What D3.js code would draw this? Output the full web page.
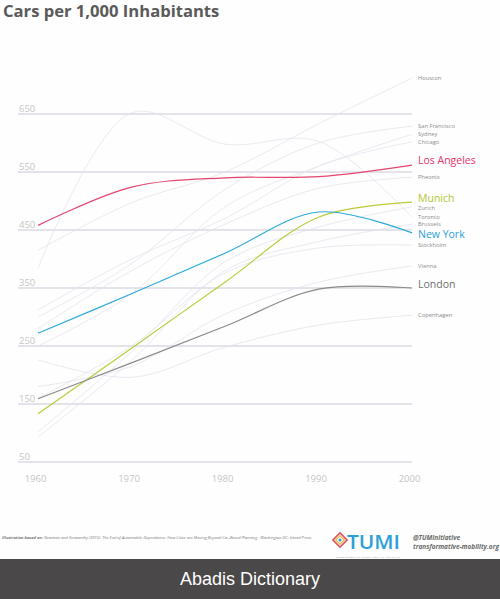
<!DOCTYPE html>
<html><head><meta charset="utf-8">
<script src="https://cdn.jsdelivr.net/npm/d3@7"></script>
<style>
html,body{margin:0;padding:0;background:#fff;}
svg{display:block;}
</style></head>
<body>
<script>
// ---- data ----
const years = [1960, 1970, 1980, 1990, 2000];
const yTicks = [50, 150, 250, 350, 450, 550, 650];
const xTicks = [1960, 1970, 1980, 1990, 2000];

const cities = ["Houston","San Francisco","Sydney","Chicago","Los Angeles","Pheonix","Munich","Zurich","Toronto","Brussels","New York","Stockholm","Vienna","London","Copenhagen"];
const values = [
  [415, 497, 550, 633, 712],   // Houston
  [300, 392, 520, 600, 629],   // San Francisco
  [250, 340, 490, 560, 615],   // Sydney
  [312, 400, 470, 560, 602],   // Chicago
  [458, 524, 540, 542, 562],   // Los Angeles
  [280, 380, 460, 522, 541],   // Pheonix
  [133, 246, 360, 472, 498],   // Munich
  [102, 240, 395, 455, 490],   // Zurich
  [384, 652, 598, 603, 472],   // Toronto
  [93, 225, 380, 430, 460],    // Brussels
  [272, 340, 410, 481, 445],   // New York
  [160, 250, 376, 419, 424],   // Stockholm
  [180, 215, 305, 360, 388],   // Vienna
  [159, 221, 284, 348, 350],   // London
  [226, 196, 248, 286, 303]    // Copenhagen
];
const highlight = {"Los Angeles":"#e4456f","Munich":"#bccb3a","New York":"#2ea9dc","London":"#8a8a8a"};
const highlightLabel = {"Los Angeles":"#e8336a","Munich":"#b3c52c","New York":"#2aa0da","London":"#6e6e6e"};
const titleText = "Cars per 1,000 Inhabitants";
const sourceBold = "Illustration based on:";
const sourceText = " Newman and Kenworthy (2015): The End of Automobile Dependence. How Cities are Moving Beyond Car-Based Planning . Washington DC: Island Press.";

// ---- layout ----
const W = 500, H = 599;
const svg = d3.select("body").append("svg").attr("width", W).attr("height", H);
svg.append("rect").attr("width", W).attr("height", H).attr("fill", "#fefefe");

const x = d3.scaleLinear().domain([1960, 2000]).range([38, 412]);
const y = d3.scaleLinear().domain([50, 650]).range([462, 114]);

// title
svg.append("text").attr("x", 3).attr("y", 17)
  .attr("font-family", "Open Sans, sans-serif").attr("font-weight", 700)
  .attr("font-size", 16.6).attr("fill", "#5a5a5a").text(titleText);

// gridlines + y labels
const grid = svg.append("g");
grid.selectAll("line").data(yTicks).join("line")
  .attr("x1", 18).attr("x2", 412)
  .attr("y1", d => y(d)).attr("y2", d => y(d))
  .attr("stroke", "#dadae2").attr("stroke-width", 1.3);
grid.selectAll("text").data(yTicks).join("text")
  .attr("x", 19).attr("y", d => y(d) - 2)
  .attr("font-family", "Open Sans, sans-serif").attr("font-size", 9.5)
  .attr("fill", "#c6c6c6").text(d => d);

// x axis labels via d3 axis
const xAxis = d3.axisBottom(x).tickValues(xTicks).tickFormat(d3.format("d")).tickSize(0).tickPadding(0);
const gx = svg.append("g").attr("transform", "translate(-3,475)").call(xAxis);
gx.select(".domain").remove();
gx.selectAll("text").attr("font-family", "Open Sans, sans-serif").attr("font-size", 9.5).attr("fill", "#c6c6c6");

// lines
const line = d3.line().x((d, i) => x(years[i])).y(d => y(d)).curve(d3.curveCatmullRom.alpha(0.5));
const series = cities.map((c, i) => ({name: c, vals: values[i]}));
const faint = series.filter(s => !highlight[s.name]);
const strong = series.filter(s => highlight[s.name]);

svg.append("g").selectAll("path").data(faint).join("path")
  .attr("d", s => line(s.vals)).attr("fill", "none")
  .attr("stroke", "#e3e3ed").attr("stroke-width", 0.8);
svg.append("g").selectAll("path").data(strong).join("path")
  .attr("d", s => line(s.vals)).attr("fill", "none")
  .attr("stroke", s => highlight[s.name]).attr("stroke-width", 1.2);

// right labels: centre positions with a simple downward collision pass
const labelShift = {"Los Angeles": -4.5, "Munich": -4, "New York": 1.5, "London": -3.5};
const fsz = s => highlight[s.name] ? 10.5 : 5.8;
const labels = series.map(s => ({s, size: fsz(s), cy: y(s.vals[4]) + (labelShift[s.name] || 0)}))
  .sort((a, b) => a.cy - b.cy);
for (let i = 1; i < labels.length; i++) {
  const gap = (labels[i].size + labels[i - 1].size) / 2 * 1.2;
  if (labels[i].cy - labels[i - 1].cy < gap) labels[i].cy = labels[i - 1].cy + gap;
}
svg.append("g").selectAll("text").data(labels).join("text")
  .attr("x", 418)
  .attr("y", d => d.cy + d.size * 0.36)
  .attr("font-family", "Open Sans, sans-serif")
  .attr("font-size", d => d.size)
  .attr("fill", d => highlight[d.s.name] ? highlightLabel[d.s.name] : "#8c8c8c")
  .text(d => d.s.name);

// source
const src = svg.append("text").attr("x", 2).attr("y", 539)
  .attr("font-family", "Open Sans, sans-serif").attr("font-size", 4.2)
  .attr("font-style", "italic").attr("fill", "#7a7a7a")
  .attr("textLength", 310).attr("lengthAdjust", "spacingAndGlyphs");
src.append("tspan").attr("font-weight", 700).text(sourceBold);
src.append("tspan").text(sourceText);

// TUMI logo
const logo = svg.append("g").attr("transform", "translate(340,540)");
logo.append("rect").attr("x", -5).attr("y", -5).attr("width", 10).attr("height", 10)
  .attr("transform", "rotate(45)").attr("fill", "none").attr("stroke", "#e0505a").attr("stroke-width", 1.6);
logo.append("rect").attr("x", -3).attr("y", -3).attr("width", 6).attr("height", 6)
  .attr("transform", "rotate(45)").attr("fill", "none").attr("stroke", "#f0b030").attr("stroke-width", 1.2);
logo.append("circle").attr("r", 1.6).attr("fill", "#2aa0da");
svg.append("text").attr("x", 347).attr("y", 549)
  .attr("font-family", "Open Sans, sans-serif").attr("font-weight", 600)
  .attr("font-size", 19).attr("fill", "#2a9fd8")
  .attr("textLength", 53).attr("lengthAdjust", "spacingAndGlyphs").text("TUMI");
svg.append("text").attr("x", 336).attr("y", 557.5)
  .attr("font-family", "Open Sans, sans-serif").attr("font-size", 2.4)
  .attr("fill", "#888").attr("textLength", 64).text("Transformative Urban Mobility Initiative");
svg.append("text").attr("x", 413).attr("y", 540)
  .attr("font-family", "Open Sans, sans-serif").attr("font-size", 6.5).attr("font-style", "italic")
  .attr("font-weight", 700).attr("fill", "#6a6a6a").text("@TUMInitiative");
svg.append("text").attr("x", 413).attr("y", 549)
  .attr("font-family", "Open Sans, sans-serif").attr("font-size", 6.5).attr("font-style", "italic")
  .attr("font-weight", 700).attr("fill", "#6a6a6a").text("transformative-mobility.org");

// bottom bar
svg.append("rect").attr("x", 0).attr("y", 559).attr("width", W).attr("height", 40).attr("fill", "#4a4848");
svg.append("text").attr("x", 250).attr("y", 585).attr("text-anchor", "middle")
  .attr("font-family", "Liberation Sans, Arial, sans-serif").attr("font-size", 18)
  .attr("fill", "#ffffff").text("Abadis Dictionary");
</script>
</body></html>
